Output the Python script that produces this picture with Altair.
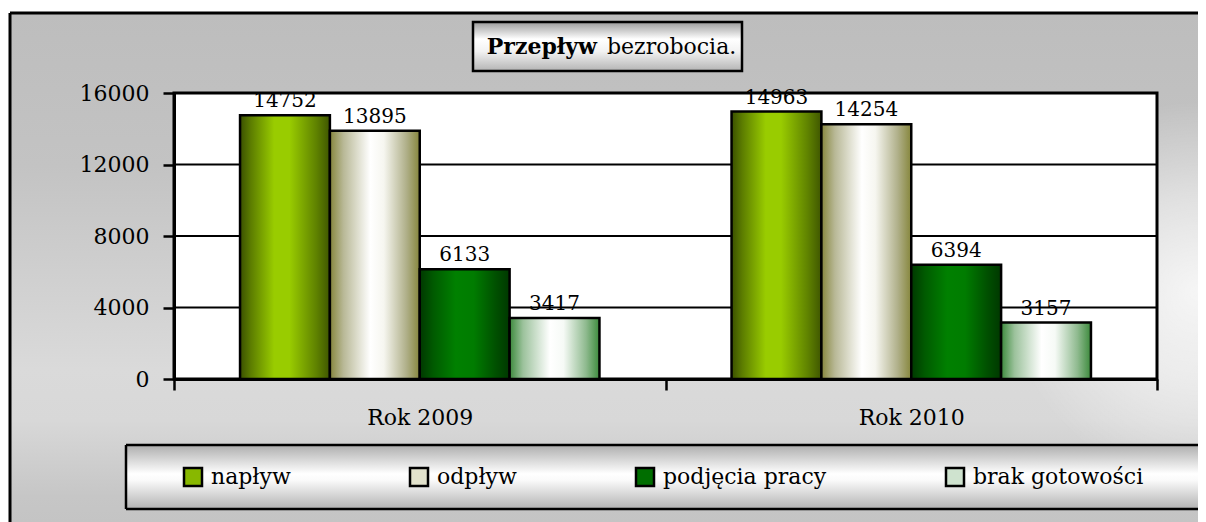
import altair as alt
import pandas as pd

# ---- data ----
YEARS = ["Rok 2009", "Rok 2010"]
SERIES = ["napływ", "odpływ", "podjęcia pracy", "brak gotowości"]
VALUES_2009 = [14752, 13895, 6133, 3417]
VALUES_2010 = [14963, 14254, 6394, 3157]
Y_TICKS = [0, 4000, 8000, 12000, 16000]
GRID_VALUES = [4000, 8000, 12000, 16000]
TITLE_BOLD = "Przepływ"
TITLE_REST = "bezrobocia."

rows = []
for yr, vals in zip(YEARS, [VALUES_2009, VALUES_2010]):
    for s, v in zip(SERIES, vals):
        rows.append({"year": yr, "series": s, "value": v})
df = pd.DataFrame(rows)
grid_df = pd.DataFrame({"v": GRID_VALUES})
one = pd.DataFrame({"k": [0]})

# ---- layout / style ----
W, H = 983, 286
PAD = {"left": 166, "top": 85, "right": 41, "bottom": 143}
RIGHT_EDGE = W + PAD["right"]
BOTTOM_EDGE = H + PAD["bottom"]
FONT = "DejaVu Serif"


def stops_of(stops):
    return [alt.GradientStop(offset=o, color=c) for o, c in stops]


def grad(stops, vertical=False):
    if vertical:
        return alt.LinearGradient(gradient="linear", x1=0, x2=0, y1=0, y2=1, stops=stops_of(stops))
    return alt.LinearGradient(gradient="linear", x1=0, x2=1, y1=0, y2=0, stops=stops_of(stops))


BAR_FILLS = {
    "napływ": grad([(0, "#3a5000"), (0.12, "#5c7d00"), (0.38, "#99cc00"), (0.55, "#99cc00"),
                    (0.85, "#5f8200"), (1, "#3f5600")]),
    "odpływ": grad([(0, "#86863c"), (0.15, "#b8b896"), (0.45, "#ffffff"), (0.6, "#f6f6f0"),
                    (0.85, "#b0b08a"), (1, "#86863c")]),
    "podjęcia pracy": grad([(0, "#003800"), (0.15, "#005a00"), (0.4, "#008000"), (0.6, "#007c00"),
                            (0.85, "#004f00"), (1, "#003800")]),
    "brak gotowości": grad([(0, "#3c8a3c"), (0.15, "#9cc29c"), (0.45, "#ffffff"), (0.6, "#f6faf6"),
                            (0.85, "#8fba8f"), (1, "#3c8a3c")]),
}
SWATCH = ["#88b800", "#e2e2cc", "#006e00", "#cfe3cf"]

x_enc = alt.X(
    "year:N", sort=YEARS,
    scale=alt.Scale(domain=YEARS, paddingInner=0, paddingOuter=0),
    axis=alt.Axis(title=None, labelFont=FONT, labelFontSize=22, labelColor="black",
                  labelPadding=17, labelAngle=0, tickBand="extent", tickSize=11,
                  tickWidth=2.5, tickColor="black", domainColor="black", domainWidth=3,
                  grid=False, zindex=1),
)
xo_enc = alt.XOffset("series:N", sort=SERIES,
                     scale=alt.Scale(domain=SERIES, paddingInner=0, paddingOuter=0.735))
y_axis = alt.Axis(title=None, values=Y_TICKS, format="d", labelFont=FONT, labelFontSize=22,
                  labelColor="black", labelPadding=14, tickSize=11, tickWidth=2.5,
                  tickColor="black", domainColor="black", domainWidth=3, grid=False, zindex=1)
y_scale = alt.Scale(domain=[0, 16000], nice=False, zero=True)

# ---- decorative frame ----
bg = alt.Chart(one).mark_rect(
    fill=grad([(0, "#bdbdbd"), (0.3, "#c3c3c3"), (0.7, "#dadada"), (0.8, "#d8d8d8"),
               (0.95, "#c6c6c6"), (1, "#c4c4c4")], vertical=True),
).encode(x=alt.value(-164), x2=alt.value(RIGHT_EDGE), y=alt.value(-80), y2=alt.value(BOTTOM_EDGE))

bg_light = alt.Chart(one).mark_rect(
    fill=alt.RadialGradient(gradient="radial", x1=1.0, y1=0.52, r1=0, x2=1.0, y2=0.52, r2=0.16,
                            stops=stops_of([(0, "rgba(255,255,255,0.8)"),
                                            (0.5, "rgba(255,255,255,0.45)"),
                                            (1, "rgba(255,255,255,0)")])),
).encode(x=alt.value(-164), x2=alt.value(RIGHT_EDGE), y=alt.value(-80), y2=alt.value(BOTTOM_EDGE))

outer_top = alt.Chart(one).mark_rule(color="black", strokeWidth=3).encode(
    x=alt.value(-164), x2=alt.value(RIGHT_EDGE), y=alt.value(-80))
outer_left = alt.Chart(one).mark_rule(color="black", strokeWidth=3).encode(
    x=alt.value(-164), y=alt.value(-80), y2=alt.value(BOTTOM_EDGE))

title_box = alt.Chart(one).mark_rect(
    fill=grad([(0, "#9a9a9a"), (0.35, "#ffffff"), (0.6, "#f2f2f2"), (1, "#b4b4b4")], vertical=True),
    stroke="black", strokeWidth=2.5,
).encode(x=alt.value(299), x2=alt.value(568), y=alt.value(-71), y2=alt.value(-22))

title_a = alt.Chart(one).mark_text(
    text=TITLE_BOLD, font=FONT, fontSize=22, fontWeight="bold", align="right",
    baseline="middle", color="black",
).encode(x=alt.value(423), y=alt.value(-46))
title_b = alt.Chart(one).mark_text(
    text=TITLE_REST, font=FONT, fontSize=22, align="left", baseline="middle", color="black",
).encode(x=alt.value(433), y=alt.value(-46))

LEG_TOP, LEG_BOTTOM = 352, 416
legend_box = alt.Chart(one).mark_rect(
    fill=grad([(0, "#aeaeae"), (0.45, "#ffffff"), (0.55, "#fafafa"), (1, "#b2b2b2")], vertical=True),
).encode(x=alt.value(-48), x2=alt.value(RIGHT_EDGE), y=alt.value(LEG_TOP), y2=alt.value(LEG_BOTTOM))
legend_top = alt.Chart(one).mark_rule(color="black", strokeWidth=2.5).encode(
    x=alt.value(-48), x2=alt.value(RIGHT_EDGE), y=alt.value(LEG_TOP))
legend_bottom = alt.Chart(one).mark_rule(color="black", strokeWidth=2.5).encode(
    x=alt.value(-48), x2=alt.value(RIGHT_EDGE), y=alt.value(LEG_BOTTOM))
legend_left = alt.Chart(one).mark_rule(color="black", strokeWidth=2.5).encode(
    x=alt.value(-48), y=alt.value(LEG_TOP), y2=alt.value(LEG_BOTTOM))

plot_bg = alt.Chart(one).mark_rect(fill="white", stroke="black", strokeWidth=3).encode(
    x=alt.value(0), x2=alt.value(W), y=alt.value(0), y2=alt.value(H))

grid = alt.Chart(grid_df).mark_rule(color="black", strokeWidth=2).encode(
    y=alt.Y("v:Q", scale=y_scale, axis=y_axis))

# ---- bars ----
bars = []
for s in SERIES:
    bars.append(
        alt.Chart(df).transform_filter(alt.datum.series == s).mark_bar(
            fill=BAR_FILLS[s], stroke="black", strokeWidth=2.5, opacity=1
        ).encode(x=x_enc, xOffset=xo_enc, y=alt.Y("value:Q", scale=y_scale, axis=y_axis))
    )

labels = alt.Chart(df).mark_text(
    font=FONT, fontSize=20, baseline="bottom", dy=-4, color="black"
).encode(x=x_enc, xOffset=xo_enc, y=alt.Y("value:Q", scale=y_scale, axis=y_axis),
         text=alt.Text("value:Q", format="d"))

legend_layer = alt.Chart(df).mark_square(opacity=0, stroke="black", strokeWidth=2.5).encode(
    x=x_enc, xOffset=xo_enc, y=alt.Y("value:Q", scale=y_scale, axis=y_axis),
    fill=alt.Fill("series:N", sort=SERIES,
                  scale=alt.Scale(domain=SERIES, range=SWATCH),
                  legend=alt.Legend(orient="none", legendX=8, legendY=373, direction="horizontal",
                                    columns=4, title=None, symbolType="square", symbolSize=324,
                                    symbolStrokeColor="black", symbolStrokeWidth=2.5,
                                    symbolOpacity=1, labelFont=FONT, labelFontSize=22,
                                    labelColor="black", labelOffset=7, columnPadding=114,
                                    padding=0, labelLimit=400)),
)

chart = alt.layer(
    bg, bg_light, outer_top, outer_left, title_box, title_a, title_b,
    legend_box, legend_top, legend_bottom, legend_left,
    plot_bg, grid, *bars, labels, legend_layer
).properties(
    width=W, height=H,
    padding=PAD,
    autosize=alt.AutoSizeParams(type="none"),
).configure_view(strokeWidth=0).configure(background="white")

chart.save("out.html", embed_options={"renderer": "svg", "actions": False})
